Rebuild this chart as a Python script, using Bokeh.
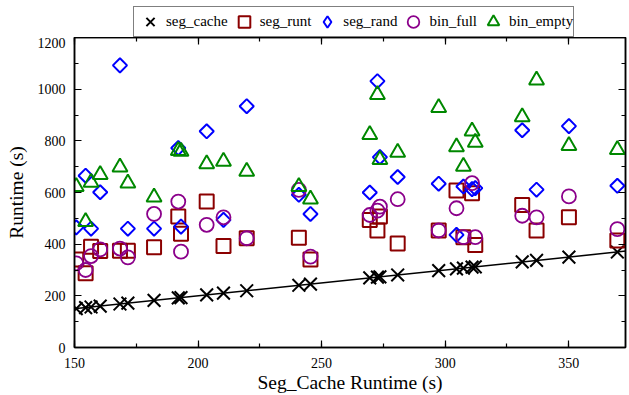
from bokeh.plotting import figure
from bokeh.layouts import column
from bokeh.models import (Range1d, SingleIntervalTicker, LinearAxis, Legend,
                          LegendItem, Slope, CustomJSTickFormatter)
from bokeh.embed import file_html
from bokeh.resources import INLINE

# ---- data ----
seg_cache = [150.7, 154.5, 156.7, 160.4, 168.4, 171.6, 182.2, 192.0, 193.1,
             203.5, 210.3, 219.7, 240.8, 245.5, 269.5, 272.6, 273.6, 280.8,
             297.4, 304.6, 307.4, 310.9, 312.2, 331.2, 337.0, 350.1, 369.7]
seg_runt = [341, 287, 390, 374, 375, 375, 388, 507, 440, 565, 393, 423, 425,
            341, 494, 453, 507, 403, 453, 608, 427, 597, 397, 552, 453, 504, 414]
seg_rand = [465, 665, 460, 601, 1092, 460, 460, 772, 468, 837, 494, 934, 591,
            517, 600, 1031, 737, 660, 634, 436, 623, 613, 617, 841, 611, 857, 626]
bin_full = [326, 300, 354, 380, 383, 349, 517, 565, 371, 475, 504, 423, 610,
            352, 513, 530, 545, 574, 453, 539, 427, 636, 427, 510, 504, 585, 458]
bin_empty = [623, 487, 639, 669, 698, 636, 582, 762, 759, 711, 720, 682, 623,
             574, 824, 979, 727, 755, 928, 776, 701, 837, 794, 893, 1035, 781, 766]
series_names = ["seg_cache", "seg_runt", "seg_rand", "bin_full", "bin_empty"]
x_label = "Seg_Cache Runtime (s)"
y_label = "Runtime (s)"

FONT = "'Liberation Serif'"

# marker styles per series
STYLES = [
    dict(marker="x", size=18, line_color="black", line_width=2),
    dict(marker="square", size=14, fill_color=None, line_color="#8b0000", line_width=2),
    dict(marker="square", angle=0.785398, size=10, fill_color=None, line_color="#0000ff", line_width=2),
    dict(marker="circle", size=14, fill_color=None, line_color="#8b008b", line_width=1.8),
    dict(marker="triangle", size=15, fill_color=None, line_color="#008800", line_width=2),
]
# legend samples (legend ignores marker angle, so the diamond is explicit)
LEGEND_MARKERS = ["x", "square", "diamond", "circle", "triangle"]

p = figure(width=629, height=358, x_range=Range1d(150, 373),
           y_range=Range1d(0, 1200), output_backend="svg",
           toolbar_location=None, min_border_left=74, min_border_right=4,
           min_border_top=0, min_border_bottom=48)
p.xgrid.visible = False
p.ygrid.visible = False
p.outline_line_color = "black"
p.outline_line_width = 1.5

xt = SingleIntervalTicker(interval=50, num_minor_ticks=2)
yt = SingleIntervalTicker(interval=200, num_minor_ticks=2)
p.xaxis.ticker = xt
p.yaxis.ticker = yt


def style_axis(ax):
    ax.axis_line_color = "black"
    ax.axis_line_width = 1.5
    ax.major_tick_in = 7
    ax.major_tick_out = 0
    ax.minor_tick_in = 4
    ax.minor_tick_out = 0
    ax.major_tick_line_color = "black"
    ax.minor_tick_line_color = "black"
    ax.major_tick_line_width = 1.2
    ax.minor_tick_line_width = 1.2
    ax.major_label_text_font = FONT
    ax.major_label_text_font_size = "14px"
    ax.major_label_text_color = "black"
    ax.axis_label_text_font = FONT
    ax.axis_label_text_font_size = "19.5px"
    ax.axis_label_text_font_style = "normal"
    ax.axis_label_text_color = "black"


for ax in p.xaxis + p.yaxis:
    style_axis(ax)
p.xaxis.axis_label = x_label
p.yaxis.axis_label = y_label
p.xaxis.major_label_standoff = 10
p.xaxis.axis_label_standoff = 1
p.yaxis.major_label_standoff = 9
p.yaxis.axis_label_standoff = 8

blank = CustomJSTickFormatter(code="return ''")
top_ax = LinearAxis(ticker=xt, formatter=blank)
right_ax = LinearAxis(ticker=yt, formatter=blank)
for ax in (top_ax, right_ax):
    style_axis(ax)
    ax.major_label_standoff = 0
p.add_layout(right_ax, "right")
p.add_layout(top_ax, "above")

# identity line (seg_cache against itself)
p.add_layout(Slope(gradient=1, y_intercept=0, line_color="black", line_width=1.5))

ys = [seg_cache, seg_runt, seg_rand, bin_full, bin_empty]
for yv, st in zip(ys, STYLES):
    p.scatter(seg_cache, yv, **st)

# ---- legend strip above the plot (its own renderers lie outside its view) ----
lg = figure(width=629, height=37, x_range=Range1d(0, 1), y_range=Range1d(0, 1),
            output_backend="svg", toolbar_location=None,
            x_axis_location=None, y_axis_location=None,
            min_border_left=74, min_border_right=4, min_border_top=0,
            min_border_bottom=0)
lg.xgrid.visible = False
lg.ygrid.visible = False
lg.outline_line_color = None
items = []
for name, yv, st, mk in zip(series_names, ys, STYLES, LEGEND_MARKERS):
    st2 = {k: v for k, v in st.items() if k not in ("marker", "angle")}
    r = lg.scatter(seg_cache, yv, marker=mk, **st2)
    items.append(LegendItem(label=name, renderers=[r]))
legend = Legend(items=items, orientation="horizontal", location=(59, 0),
                border_line_color="black", border_line_width=1.2,
                label_text_font=FONT, label_text_font_size="15px",
                label_text_color="black",
                glyph_width=32, glyph_height=29, label_standoff=-3,
                spacing=-4, padding=0, margin=0,
                background_fill_alpha=1)
lg.add_layout(legend)

layout = column(lg, p, spacing=0)
open("out.html", "w").write(file_html(layout, INLINE))
